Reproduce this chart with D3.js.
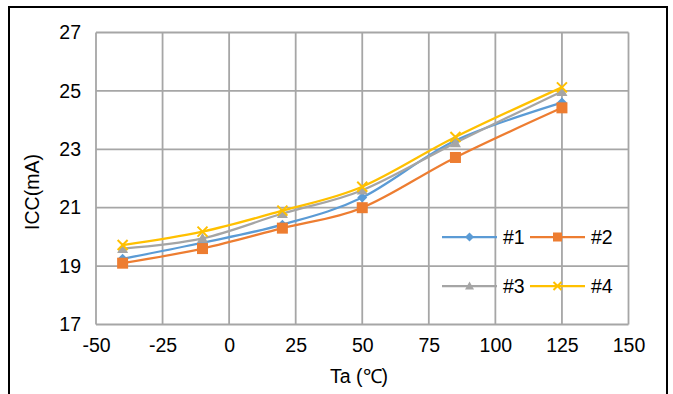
<!DOCTYPE html>
<html><head><meta charset="utf-8">
<script src="https://cdn.jsdelivr.net/npm/d3@7"></script>
<style>html,body{margin:0;padding:0;background:#fff;}svg{display:block;}</style>
</head><body>
<svg id="c" width="673" height="394"></svg>
<script>
const temps = [-40, -10, 20, 50, 85, 125];
const s1 = [19.25, 19.8, 20.42, 21.35, 23.3, 24.6];
const s2 = [19.1, 19.6, 20.3, 21.0, 22.72, 24.42];
const s3 = [19.6, 19.95, 20.8, 21.6, 23.22, 24.98];
const s4 = [19.72, 20.18, 20.9, 21.72, 23.42, 25.12];
const seriesNames = ["#1", "#2", "#3", "#4"];
const colors = ["#5b9bd5", "#ed7d31", "#a5a5a5", "#ffc000"];
const markers = ["diamond", "square", "triangle", "x"];
const xTicks = [-50, -25, 0, 25, 50, 75, 100, 125, 150];
const yTicks = [17, 19, 21, 23, 25, 27];

const svg = d3.select("#c");
const font = "'Liberation Sans', Arial, sans-serif";
svg.append("rect").attr("x",9).attr("y",7).attr("width",658).attr("height",400)
  .attr("fill","#fff").attr("stroke","#000").attr("stroke-width",2);

const x = d3.scaleLinear().domain([-50,150]).range([96,628.5]);
const y = d3.scaleLinear().domain([17,27]).range([324.5,32.5]);

const g = svg.append("g");
g.selectAll("line.v").data(xTicks).join("line")
  .attr("x1",d=>x(d)).attr("x2",d=>x(d)).attr("y1",y(27)).attr("y2",y(17))
  .attr("stroke","#a6a6a6").attr("stroke-width",1.8);
g.selectAll("line.h").data(yTicks).join("line")
  .attr("x1",x(-50)).attr("x2",x(150)).attr("y1",d=>y(d)).attr("y2",d=>y(d))
  .attr("stroke","#a6a6a6").attr("stroke-width",1.8);

const xAxis = d3.axisBottom(x).tickValues(xTicks).tickSize(0).tickPadding(14).tickFormat(d=>String(d));
svg.append("g").attr("transform",`translate(0,${y(17)})`).call(xAxis)
  .call(a=>a.select(".domain").remove())
  .selectAll("text").attr("font-family",font).attr("font-size","19.5px").attr("fill","#000");
const yAxis = d3.axisLeft(y).tickValues(yTicks).tickSize(0).tickPadding(15).tickFormat(d=>String(d));
svg.append("g").attr("transform",`translate(${x(-50)},0)`).call(yAxis)
  .call(a=>a.select(".domain").remove())
  .selectAll("text").attr("font-family",font).attr("font-size","19.5px").attr("fill","#000");

svg.append("text").attr("x",359).attr("y",383).attr("text-anchor","middle")
  .attr("font-family",font).attr("font-size","19.5px").text("Ta (℃)");
svg.append("text").attr("transform","translate(39,192) rotate(-90)").attr("text-anchor","middle")
  .attr("font-family",font).attr("font-size","19.5px").text("ICC(mA)");

const data = [s1,s2,s3,s4];
const line = d3.line().x((d,i)=>x(temps[i])).y(d=>y(d)).curve(d3.curveCatmullRom.alpha(0));

function drawMarker(sel, type, color, cx, cy, s) {
  if (type === "diamond") {
    sel.append("path").attr("d",`M${cx},${cy-s}L${cx+s},${cy}L${cx},${cy+s}L${cx-s},${cy}Z`).attr("fill",color);
  } else if (type === "square") {
    sel.append("rect").attr("x",cx-s).attr("y",cy-s).attr("width",2*s).attr("height",2*s).attr("fill",color);
  } else if (type === "triangle") {
    sel.append("path").attr("d",`M${cx},${cy-s}L${cx+s},${cy+s*0.8}L${cx-s},${cy+s*0.8}Z`).attr("fill",color);
  } else {
    sel.append("path").attr("d",`M${cx-s},${cy-s}L${cx+s},${cy+s}M${cx-s},${cy+s}L${cx+s},${cy-s}`)
      .attr("stroke",color).attr("stroke-width",2).attr("fill","none");
  }
}
const msize = [5, 5.5, 5.5, 5];
data.forEach((vals,k)=>{
  svg.append("path").datum(vals).attr("d",line).attr("fill","none")
    .attr("stroke",colors[k]).attr("stroke-width",2.25);
});
data.forEach((vals,k)=>{
  const mg = svg.append("g");
  vals.forEach((v,i)=>drawMarker(mg, markers[k], colors[k], x(temps[i]), y(v), msize[k]));
});

// legend
const legPos = [[442,237],[530,237],[442,286],[530,286]];
seriesNames.forEach((n,k)=>{
  const [lx,ly] = legPos[k];
  const lg = svg.append("g");
  lg.append("line").attr("x1",lx).attr("x2",lx+55).attr("y1",ly).attr("y2",ly)
    .attr("stroke",colors[k]).attr("stroke-width",2.25);
  drawMarker(lg, markers[k], colors[k], lx+27.5, ly, k===3?4:4.5);
  lg.append("text").attr("x",lx+61).attr("y",ly+7).attr("font-family",font)
    .attr("font-size","19.5px").text(n);
});
</script>
</body></html>
